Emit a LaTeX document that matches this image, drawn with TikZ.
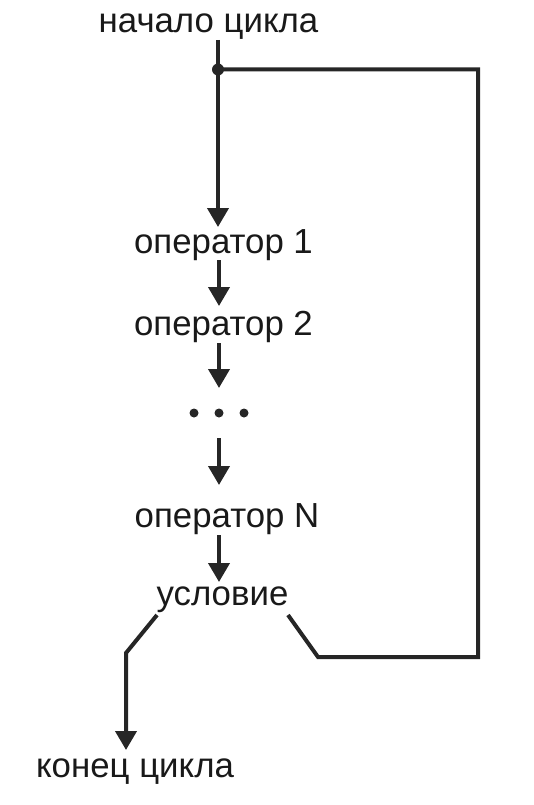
\documentclass[tikz,border=0pt]{standalone}
\usepackage{fontspec}
\setmainfont{Liberation Sans}
\usetikzlibrary{arrows.meta}
\begin{document}
\begin{tikzpicture}[x=1pt,y=-1pt,
  lbl/.style={anchor=base,inner sep=0pt,font=\fontsize{34.8}{38}\selectfont,text=black!90},
  ln/.style={line width=4pt,draw=black!85},
  arr/.style={ln,-{Triangle[length=19pt,width=21pt]}},
  dotn/.style={circle,fill=black!85,inner sep=0pt,minimum size=9pt}]
\useasboundingbox (0,0) rectangle (533,805);
% text nodes
\node[lbl] (start) at (208.5,33) {начало цикла};
\node[lbl] (op1) at (223.5,253) {оператор 1};
\node[lbl] (op2) at (223.5,335) {оператор 2};
\node[dotn] (d1) at (194,413) {};
\node[dotn] (d2) at (219,413) {};
\node[dotn] (d3) at (244,413) {};
\node[lbl] (opN) at (227,527) {оператор N};
\node[lbl] (cond) at (222.5,605) {условие};
\node[lbl] (fin) at (135,777) {конец цикла};
% junction
\node[circle,fill=black!85,inner sep=0pt,minimum size=12pt] (j) at (218,69.5) {};
% coordinates
\coordinate (s0) at (218,40);
\coordinate (t1) at (218,227);
\coordinate (a1s) at (219,260);
\coordinate (a1e) at (219,306);
\coordinate (a2s) at (219,343);
\coordinate (a2e) at (219,388);
\coordinate (a3s) at (219,438);
\coordinate (a3e) at (219,485);
\coordinate (a4s) at (219,535);
\coordinate (a4e) at (219,582);
\coordinate (r1) at (478,69.5);
\coordinate (r2) at (478,657);
\coordinate (r3) at (318,657);
\coordinate (r4) at (288,615);
\coordinate (l1) at (157,615);
\coordinate (l2) at (126,653);
\coordinate (l3) at (126,750);
% connectors
\draw[arr] (s0) -- (j.center) -- (t1);
\draw[arr] (a1s) -- (a1e);
\draw[arr] (a2s) -- (a2e);
\draw[arr] (a3s) -- (a3e);
\draw[arr] (a4s) -- (a4e);
\draw[ln,line join=miter] (j.center) -- (r1) -- (r2) -- (r3) -- (r4);
\draw[arr,line join=miter] (l1) -- (l2) -- (l3);
\end{tikzpicture}
\end{document}
